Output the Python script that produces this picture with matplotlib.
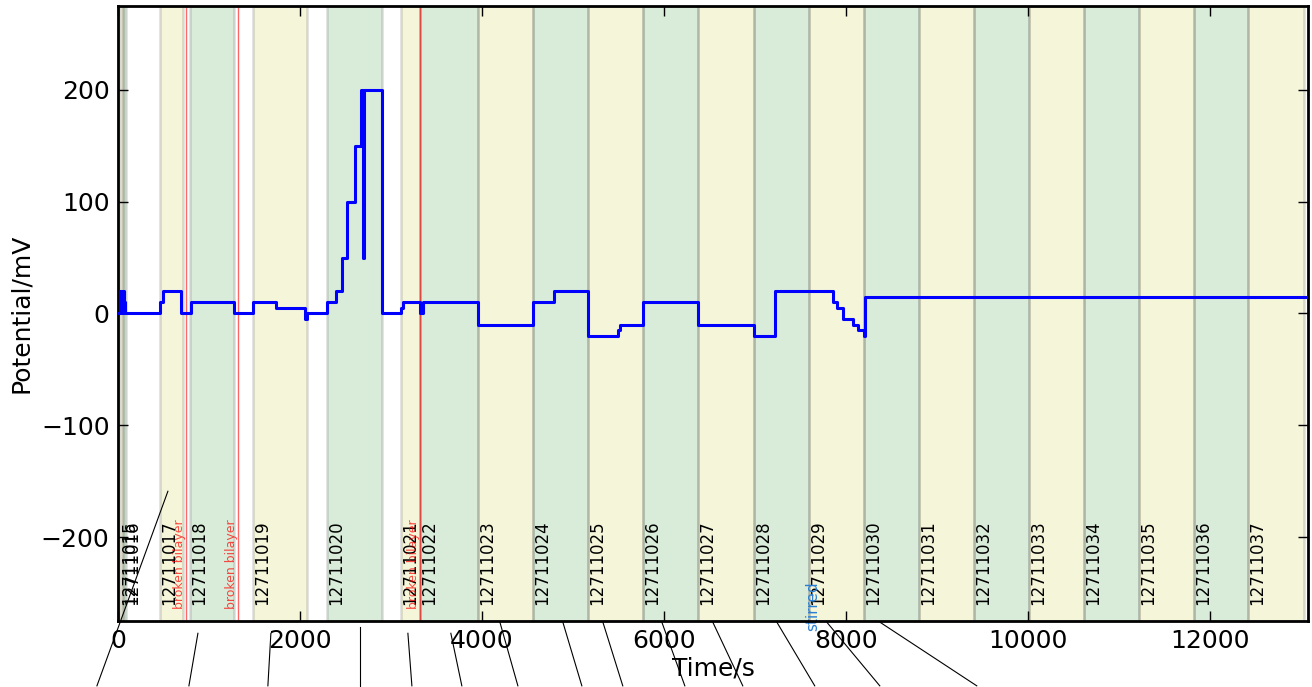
#!/usr/bin/env python3
"""
Plot membrane potential over the full run, with one shaded band per file
"""

import matplotlib
matplotlib.use('Agg')
import matplotlib.pyplot as plt
from matplotlib.colors import to_rgba

# Potential steps (time in s, potential in mV), held until the next time
step_times = [0, 25, 35, 60, 65, 75, 462, 495, 692, 802, 1275, 1484, 1736,
              2055, 2077, 2297, 2396, 2462, 2516, 2604, 2670, 2692, 2705,
              2901, 3110, 3132, 3319, 3352, 3956, 4560, 4791, 5170, 5495,
              5516, 5769, 6374, 6995, 7220, 7857, 7901, 7967, 8077, 8132,
              8198, 8209, 13080]
step_values = [0, 20, 0, 20, 10, 0, 10, 20, 0, 10, 0, 10, 5,
               -5, 0, 10, 20, 50, 100, 150, 200, 50, 200,
               0, 5, 10, 0, 10, -10, 10, 20, -20, -15,
               -10, 10, -10, -20, 20, 10, 5, -5, -10, -15,
               -20, 15, 15]

# Recorded files: name, start and end of each recording
file_names = ['12711015', '12711016', '12711017', '12711018', '12711019',
              '12711020', '12711021', '12711022', '12711023', '12711024',
              '12711025', '12711026', '12711027', '12711028', '12711029',
              '12711030', '12711031', '12711032', '12711033', '12711034',
              '12711035', '12711036', '12711037']
file_starts = [20, 55, 462, 791, 1484, 2297, 3110, 3319, 3956, 4560, 5165,
               5769, 6374, 6989, 7593, 8198, 8802, 9407, 10011, 10615,
               11220, 11824, 12418]
file_ends = [55, 88, 714, 1275, 2077, 2901, 3319, 3956, 4560, 5165, 5769,
             6374, 6989, 7593, 8198, 8802, 9407, 10011, 10615, 11220,
             11824, 12418, 13033]

# Events noted during the run
event_times = [747, 1319, 3319]
event_label = 'broken bilayer'
stir_time = 7715
stir_label = 'stirred'

# Leader lines from the annotations (time, potential at each end)
lead_t0 = [549, 879, 1681, 2659, 3187, 3659, 4198, 4890, 5330, 5978, 6538,
           7242, 7791, 8374]
lead_v0 = [-159, -286, -286, -280, -286, -286, -276, -276, -276, -276,
           -276, -276, -276, -276]
lead_t1 = [-231, 780, 1648, 2659, 3231, 3780, 4396, 5099, 5549, 6231, 6868,
           7659, 8374, 9440]
lead_v1 = [-333] * 14

fig = plt.figure(figsize=(13.12, 6.87), dpi=100)
ax = fig.add_axes([0.0899, 0.0961, 0.907, 0.8952])

for i, name in enumerate(file_names):
    colour = 'y' if i % 2 == 0 else 'g'
    ax.axvspan(file_starts[i], file_ends[i], facecolor=to_rgba(colour, 0.15),
               edgecolor=(0.3, 0.3, 0.3, 0.2), lw=1.8, zorder=0)
    ax.text(file_starts[i], -261, name, rotation=90, ha='left', va='bottom',
            fontsize=12, zorder=2)

for t in event_times:
    ax.axvline(t, color='r', alpha=0.6, lw=1, zorder=1)
    ax.text(t, -264, event_label, rotation=90, ha='right', va='bottom',
            fontsize=9, color='r', alpha=0.7, zorder=2)
ax.text(stir_time, -284, stir_label, rotation=90, ha='right', va='bottom',
        fontsize=11, color='#2a7fd4', zorder=2)

ax.plot(step_times, step_values, drawstyle='steps-post', color='b', lw=2.2,
        zorder=3)

for i in range(len(lead_t0)):
    ax.plot([lead_t0[i], lead_t1[i]], [lead_v0[i], lead_v1[i]], color='k',
            lw=0.8, clip_on=False, zorder=4)

ax.set_xlim(0, step_times[-1])
ax.set_ylim(-275, 275)
ax.set_yticks([-200, -100, 0, 100, 200])
ax.set_xticks([0, 2000, 4000, 6000, 8000, 10000, 12000])
ax.tick_params(direction='in', length=7, width=1, labelsize=18,
               top=True, right=True, pad=6)
for spine in ax.spines.values():
    spine.set_linewidth(2)
ax.set_xlabel('Time/s', fontsize=18, labelpad=2)
ax.set_ylabel('Potential/mV', fontsize=18, labelpad=6)

fig.savefig('out.png', dpi=100)
